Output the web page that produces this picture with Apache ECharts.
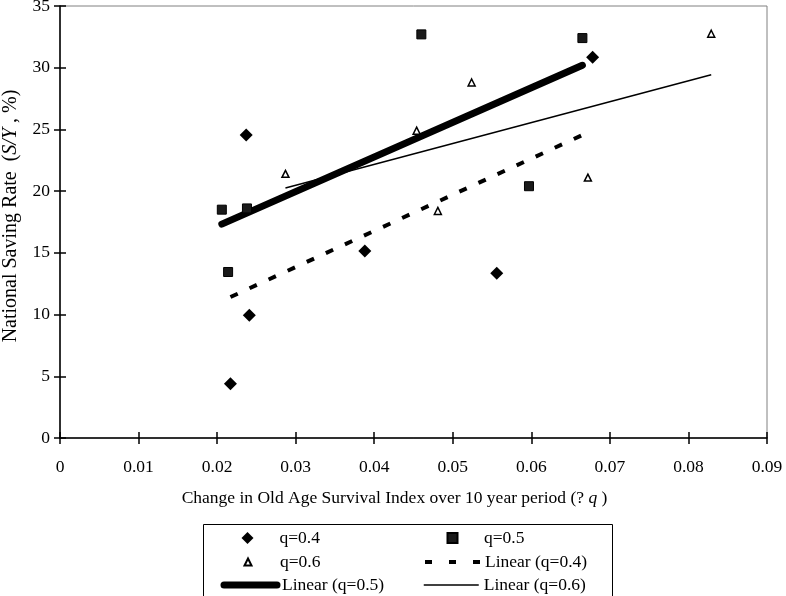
<!DOCTYPE html>
<html><head><meta charset="utf-8">
<script src="https://cdn.jsdelivr.net/npm/echarts@6/dist/echarts.min.js"></script>
<style>html,body{margin:0;padding:0;background:#fff}#c{width:786px;height:596px}</style>
</head><body><div id="c"></div>
<script>
// Scatter data
const q04X = [0.0217, 0.0241, 0.0388, 0.0237, 0.0556, 0.0678];
const q04Y = [4.4, 9.95, 15.15, 24.55, 13.35, 30.85];
const q05X = [0.0206, 0.0238, 0.0214, 0.0460, 0.0597, 0.0665];
const q05Y = [18.5, 18.6, 13.45, 32.7, 20.4, 32.4];
const q06X = [0.0287, 0.0454, 0.0524, 0.0481, 0.0672, 0.0829];
const q06Y = [21.4, 24.9, 28.8, 18.4, 21.1, 32.75];
const seriesNames = ['q=0.4', 'q=0.5', 'q=0.6', 'Linear (q=0.4)', 'Linear (q=0.5)', 'Linear (q=0.6)'];
// Correlation annotations
const rLabels = ['r=0.72', 'r=0.59', 'r=0.58'];
const rX = [0.0591, 0.0809, 0.0321];
const rY = [30.4, 26.75, 11.35];

const FONT = 'Liberation Serif, Times New Roman, serif';
function pairs(xs, ys) { return xs.map((x, i) => [x, ys[i]]); }
function trend(xs, ys) {
  const n = xs.length;
  const mx = xs.reduce((a, b) => a + b, 0) / n, my = ys.reduce((a, b) => a + b, 0) / n;
  let sxy = 0, sxx = 0;
  for (let i = 0; i < n; i++) { sxy += (xs[i] - mx) * (ys[i] - my); sxx += (xs[i] - mx) ** 2; }
  const b = sxy / sxx, a = my - b * mx;
  const x0 = Math.min(...xs), x1 = Math.max(...xs);
  return [[x0, a + b * x0], [x1, a + b * x1]];
}

const chart = echarts.init(document.getElementById('c'));
const tickStyle = { color: '#000', width: 1.5 };
const xFmt = v => v === 0 ? '0' : v.toFixed(2);

// legend layout helpers (one legend per entry, placed in a 2x3 box)
const rowC = [538, 562, 585];
function legendEntry(item, left, row, size, padLeft) {
  return { data: [item], orient: 'vertical', left: left, top: rowC[row] - 9, padding: 0,
    itemWidth: size[0], itemHeight: size[1], selectedMode: false,
    textStyle: { fontFamily: FONT, fontSize: 17.5, color: '#000', lineHeight: 18, padding: [0, 0, 0, padLeft] } };
}
const hideSym = { opacity: 0 };

chart.setOption({
  animation: false,
  backgroundColor: '#fff',
  grid: { left: 60, right: 19, top: 6, bottom: 158, show: true, borderColor: '#808080', borderWidth: 1,
    outerBoundsMode: 'none', containLabel: false },
  xAxis: [
    { type: 'value', min: 0, max: 0.09, interval: 0.01, position: 'bottom',
      axisLine: { show: true, onZero: false, lineStyle: { color: '#000', width: 1.5 } },
      axisTick: { show: true, length: 6, lineStyle: tickStyle },
      axisLabel: { formatter: xFmt, margin: 20, fontFamily: FONT, fontSize: 17.5, color: '#000' },
      splitLine: { show: false },
      name: 'Change in Old Age Survival Index over 10 year period (? {i|q} )',
      nameLocation: 'middle', nameGap: 51,
      nameTextStyle: { fontFamily: FONT, fontSize: 17.5, color: '#000', padding: [0, 38, 0, 0],
        rich: { i: { fontFamily: FONT, fontSize: 17.5, fontStyle: 'italic', color: '#000' } } } },
    { type: 'value', min: 0, max: 0.09, interval: 0.01, position: 'bottom',
      axisLine: { show: false }, axisTick: { show: true, inside: true, length: 6, lineStyle: tickStyle },
      axisLabel: { show: false }, splitLine: { show: false } }
  ],
  yAxis: [
    { type: 'value', min: 0, max: 35, interval: 5, position: 'left',
      axisLine: { show: true, onZero: false, lineStyle: { color: '#000', width: 1.5 } },
      axisTick: { show: true, length: 6, lineStyle: tickStyle },
      axisLabel: { margin: 10, fontFamily: FONT, fontSize: 17.5, color: '#000' },
      splitLine: { show: false },
      name: 'National Saving Rate  ({i|S/Y} , %)',
      nameLocation: 'middle', nameGap: 39,
      nameTextStyle: { fontFamily: FONT, fontSize: 20, color: '#000', padding: [0, 0, 0, 12],
        rich: { i: { fontFamily: FONT, fontSize: 20, fontStyle: 'italic', color: '#000' } } } },
    { type: 'value', min: 0, max: 35, interval: 5, position: 'left',
      axisLine: { show: false }, axisTick: { show: true, inside: true, length: 6, lineStyle: tickStyle },
      axisLabel: { show: false }, splitLine: { show: false } }
  ],
  legend: [
    legendEntry({ name: seriesNames[0] }, 241.5, 0, [12, 12], 21),
    legendEntry({ name: seriesNames[1] }, 446.5, 0, [10, 10], 21.5),
    legendEntry({ name: seriesNames[2] }, 243.5, 1, [7, 7], 23.5),
    legendEntry({ name: seriesNames[3], itemStyle: hideSym, lineStyle: { width: 4, type: [7, 17], opacity: 1 } }, 423, 1, [55, 12], 0),
    legendEntry({ name: seriesNames[4], itemStyle: hideSym, lineStyle: { width: 7, cap: 'round', opacity: 1 } }, 220.5, 2, [53, 12], 0),
    legendEntry({ name: seriesNames[5], itemStyle: hideSym, lineStyle: { width: 1.5, opacity: 1 } }, 423, 2, [55, 12], 0)
  ],
  graphic: [
    { type: 'rect', shape: { x: 203.5, y: 524.5, width: 409, height: 90 },
      style: { fill: 'none', stroke: '#000', lineWidth: 1 }, silent: true }
  ],
  series: [
    { name: seriesNames[3], type: 'line', data: trend(q04X, q04Y), symbol: 'none', z: 3,
      itemStyle: { color: '#000' }, lineStyle: { color: '#000', width: 4, type: [8, 13] } },
    { name: seriesNames[4], type: 'line', data: trend(q05X, q05Y), symbol: 'none', z: 3,
      itemStyle: { color: '#000' }, lineStyle: { color: '#000', width: 7, cap: 'round' } },
    { name: seriesNames[5], type: 'line', data: trend(q06X, q06Y), symbol: 'none', z: 3,
      itemStyle: { color: '#000' }, lineStyle: { color: '#000', width: 1.5 } },
    { name: seriesNames[0], type: 'scatter', data: pairs(q04X, q04Y), symbol: 'diamond', symbolSize: 13, z: 4,
      itemStyle: { color: '#000', opacity: 1 } },
    { name: seriesNames[1], type: 'scatter', data: pairs(q05X, q05Y), symbol: 'rect', symbolSize: 9, z: 4,
      itemStyle: { color: '#1a1a1a', borderColor: '#000', borderWidth: 1, opacity: 1 } },
    { name: seriesNames[2], type: 'scatter', data: pairs(q06X, q06Y), symbol: 'triangle', symbolSize: 7, z: 4,
      itemStyle: { color: '#fff', borderColor: '#000', borderWidth: 1.5, opacity: 1 } },
    { name: 'rLabels', type: 'scatter', data: rX.map((x, i) => ({ value: [x, rY[i]], name: rLabels[i] })),
      symbolSize: 1, itemStyle: { opacity: 0 }, silent: true, z: 5,
      label: { show: true, position: 'inside', formatter: p => p.name,
        fontFamily: FONT, fontSize: 16, color: '#000' } }
  ]
});
</script></body></html>
